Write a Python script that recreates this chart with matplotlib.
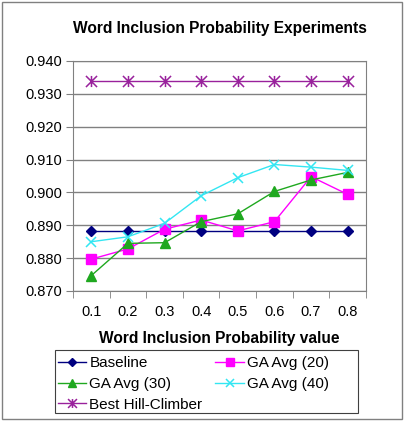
import matplotlib.pyplot as plt
import matplotlib.patches as patches
from matplotlib.path import Path
import numpy as np

plt.rcParams['font.family'] = ['Liberation Sans', 'DejaVu Sans']

probabilities = ["0.1", "0.2", "0.3", "0.4", "0.5", "0.6", "0.7", "0.8"]
baseline = [0.8884, 0.8884, 0.8884, 0.8884, 0.8884, 0.8884, 0.8884, 0.8884]
ga_avg_20 = [0.8797, 0.8828, 0.8888, 0.8916, 0.8883, 0.8911, 0.9048, 0.8994]
ga_avg_30 = [0.8747, 0.8845, 0.8847, 0.8911, 0.8935, 0.9003, 0.9038, 0.9061]
ga_avg_40 = [0.8850, 0.8865, 0.8906, 0.8990, 0.9045, 0.9085, 0.9077, 0.9067]
best_hill_climber = [0.9338, 0.9338, 0.9338, 0.9338, 0.9338, 0.9338, 0.9338, 0.9338]

purple = "#99219C"

# Excel-style star marker: an "x" with a vertical stroke through it
star = Path([(-1, -1), (1, 1), (-1, 1), (1, -1), (0, -1), (0, 1)],
            [Path.MOVETO, Path.LINETO, Path.MOVETO, Path.LINETO, Path.MOVETO, Path.LINETO])

fig = plt.figure(figsize=(4.04, 4.21), dpi=100)
# plot area in pixel terms: x 73-366, y 61-291
ax = fig.add_axes([73 / 404, 1 - 291 / 421, (366 - 73) / 404, (291 - 61) / 421])

x = np.arange(1, len(probabilities) + 1)
ax.plot(x, baseline, color="#000080", marker="D", markersize=5, lw=1, label="Baseline")
ax.plot(x, ga_avg_20, color="#FF00FF", marker="s", markersize=7.5, lw=1, label="GA Avg (20)")
ax.plot(x, ga_avg_30, color="#1FA81F", marker="^", markersize=7.5, lw=1, label="GA Avg (30)")
ax.plot(x, ga_avg_40, color="#33E6F2", marker="x", markersize=7.5, mew=1.1, lw=1, label="GA Avg (40)")
ax.plot(x, best_hill_climber, color=purple, marker=star, markersize=8, mew=1.1, lw=1,
        label="Best Hill-Climber")

ax.set_xlim(0.5, len(probabilities) + 0.5)
ax.set_ylim(0.870, 0.940)
yticks = np.arange(0.870, 0.9401, 0.010)
ax.set_yticks(yticks)
ax.set_yticklabels(["%.3f" % v for v in yticks], fontsize=10.5)
ax.yaxis.grid(True, color="#808080", lw=1)
ax.set_axisbelow(True)

ax.set_xticks(x)
ax.set_xticklabels(probabilities, fontsize=10.5)
ax.set_xticks(np.arange(0.5, len(probabilities) + 1), minor=True)
ax.tick_params(axis="x", which="major", length=0, pad=10)
ax.tick_params(axis="x", which="minor", length=5, color="#808080", direction="out")
ax.tick_params(axis="y", length=5, color="#808080", direction="out", pad=3)
for side in ["top", "right", "left", "bottom"]:
    ax.spines[side].set_color("#808080")

ax.set_title("Word Inclusion Probability Experiments", fontsize=11.2, fontweight="bold", pad=20)
ax.set_xlabel("Word Inclusion Probability value", fontsize=11.2, fontweight="bold", labelpad=9)

handles, labels = ax.get_legend_handles_labels()
# legend fills column-wise: rows read Baseline|GA20, GA30|GA40, Best
order = [0, 2, 4, 1, 3]
leg = fig.legend([handles[i] for i in order], [labels[i] for i in order], ncols=2,
                 loc="upper left", bbox_to_anchor=(55 / 404, 1 - 353 / 421),
                 fontsize=11, frameon=False,
                 borderpad=0.2, labelspacing=0.45, handlelength=1.85, handletextpad=0.2,
                 columnspacing=0.85, borderaxespad=0, markerscale=0.8)

# legend box (wider than the entries, as in the original)
fig.patches.append(patches.Rectangle((55 / 404, 1 - 413 / 421), (358 - 55) / 404, (413 - 350) / 421,
                                     transform=fig.transFigure, fill=False,
                                     edgecolor="#404040", lw=0.8))
# outer chart border
fig.patches.append(patches.Rectangle((2 / 404, 2 / 421), 400 / 404, 417 / 421,
                                     transform=fig.transFigure, fill=False,
                                     edgecolor="#808080", lw=1))

plt.savefig("out.png", dpi=100)
